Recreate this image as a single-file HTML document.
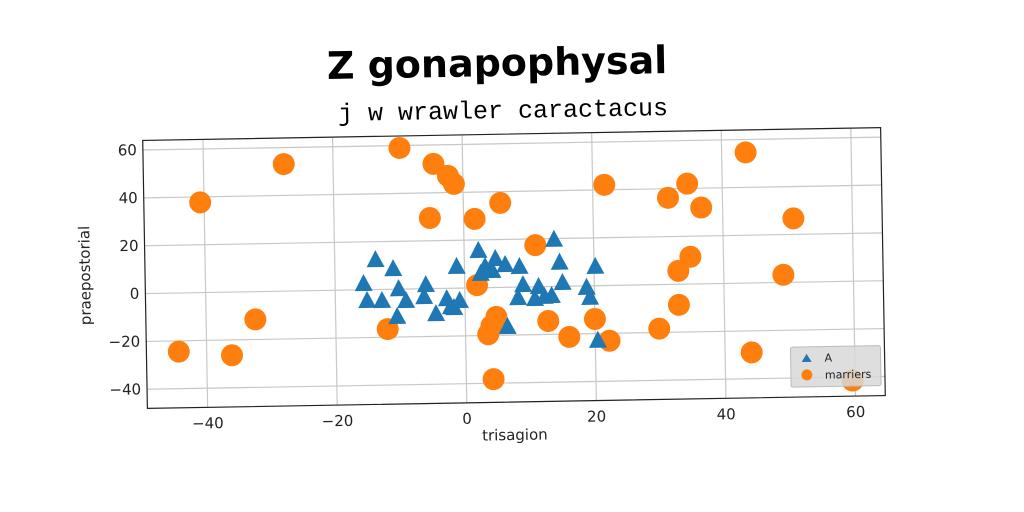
<!DOCTYPE html>
<html><head><meta charset="utf-8"><style>
html,body{margin:0;padding:0;background:#fff;width:1024px;height:512px;overflow:hidden}
svg text{font-family:"DejaVu Sans","Liberation Sans",sans-serif}
</style></head><body>
<svg id="chart" width="1024" height="512" xmlns="http://www.w3.org/2000/svg">
<text x="497" y="76" text-anchor="middle" font-size="38" font-weight="bold" fill="#000" transform="rotate(-1 497 62)">Z gonapophysal</text>
<text x="503" y="118" text-anchor="middle" font-size="25" style="font-family:'Liberation Mono',monospace" fill="#000" transform="rotate(-1 503 110)">j w wrawler caractacus</text>
<g id="plot" transform="rotate(-1 514 268)"></g>
</svg>
<script>
const xTicks=[-40,-20,0,20,40,60];
const yTicks=[-40,-20,0,20,40,60];
const aX=[-15.6,-13.7,-15.1,-12.8,-11,-10.2,-9.1,-10.5,-6,-6.3,-4.5,-2.8,-2.2,-1.2,-1.7,-0.8,2.2,3.2,4.3,4.8,6.3,8.2,8.5,9,10.8,11.4,12.3,13.4,13.9,14.7,15.1,18.8,19.3,20.2,20.4,6.5,2.5];
const aY=[2.4,12.3,-4.7,-4.8,8.4,0.0,-5.0,-11.6,1.5,-3.5,-10.7,-4.5,-7.9,8.9,-8.3,-5.4,15.4,8.7,6.9,11.9,9.3,-4.6,8.4,0.8,-5.1,-0.1,-4.3,-4.0,19.5,9.9,1.4,-0.8,-5.0,7.9,-23.0,-16.6,5.8];
const mX=[-40.6,-27.6,-32.4,-44.3,-36.1,-9.7,-4.5,-2.3,-1.4,-5.2,1.7,5.7,-12,1.9,11,3.5,4.8,4,4.2,12.8,16,20,21.8,22.2,29.9,31.6,34.6,36.7,33,34.9,33,43.7,44.1,50.9,49.2,59.6];
const mY=[37.7,53.1,-11.6,-24.5,-26.4,59.0,52.1,47.0,43.6,29.5,28.8,35.3,-16.6,1.1,17.4,-19.5,-12.3,-16.1,-38.3,-14.4,-21.2,-13.9,42.1,-23.1,-18.4,36.2,42.0,31.9,5.6,11.4,-8.6,54.6,-29.0,26.7,3.2,-41.5];
const L=145,R=883,T=134,B=402,xMin=-49.3,xMax=64.6,yMin=-48,yMax=64;
const sx=v=>L+(v-xMin)/(xMax-xMin)*(R-L);
const sy=v=>B-(v-yMin)/(yMax-yMin)*(B-T);
const NS="http://www.w3.org/2000/svg";
const g=document.getElementById('plot');
function mk(t,a,p){const e=document.createElementNS(NS,t);for(const k in a)e.setAttribute(k,a[k]);(p||g).appendChild(e);return e;}
const grid=mk('g',{});


xTicks.forEach(v=>{mk('line',{x1:sx(v),x2:sx(v),y1:T,y2:B,stroke:'#c8c8c8','stroke-width':1.2},grid);
 const t=mk('text',{x:sx(v),y:B+21,'text-anchor':'middle','font-size':15,fill:'#222'});t.textContent=(v<0?'\u2212'+(-v):v);
 
 });
yTicks.forEach(v=>{mk('line',{x1:L,x2:R,y1:sy(v),y2:sy(v),stroke:'#c8c8c8','stroke-width':1.2},grid);
 const t=mk('text',{x:L-6,y:sy(v)+5,'text-anchor':'end','font-size':15,fill:'#222'});t.textContent=(v<0?'\u2212'+(-v):v);
 
 });
const fr=mk('rect',{x:L,y:T,width:R-L,height:B-T,fill:'none',stroke:'#222','stroke-width':1.2});


const xl=mk('text',{x:(L+R)/2-2,y:B+38,'text-anchor':'middle','font-size':15,fill:'#222'});xl.textContent='trisagion';


const yl=mk('text',{x:90,y:(T+B)/2,'text-anchor':'middle','font-size':15,fill:'#222',transform:`rotate(-90 90 ${(T+B)/2})`});yl.textContent='praepostorial';


mX.forEach((v,i)=>{const c=mk('circle',{cx:sx(v),cy:sy(mY[i]),r:11,fill:'#ff7f0e'});
 
 });
aX.forEach((v,i)=>{const x=sx(v),y=sy(aY[i]);const p=mk('polygon',{points:`${x},${y-10} ${x-9},${y+7} ${x+9},${y+7}`,fill:'#1f77b4'});
 
 });
const lg=mk('g',{});


mk('rect',{x:789,y:352,width:90,height:40,fill:'#d8d8d8','fill-opacity':0.85,stroke:'#bbb',rx:2},lg);
mk('polygon',{points:'805,359 800,367 810,367',fill:'#1f77b4'},lg);
mk('circle',{cx:805,cy:380,r:5.5,fill:'#ff7f0e'},lg);
const t1=mk('text',{x:823,y:367,'font-size':11,fill:'#222'},lg);t1.textContent='A';


const t2=mk('text',{x:823,y:384,'font-size':11,fill:'#222'},lg);t2.textContent='marriers';


</script>
</body></html>
